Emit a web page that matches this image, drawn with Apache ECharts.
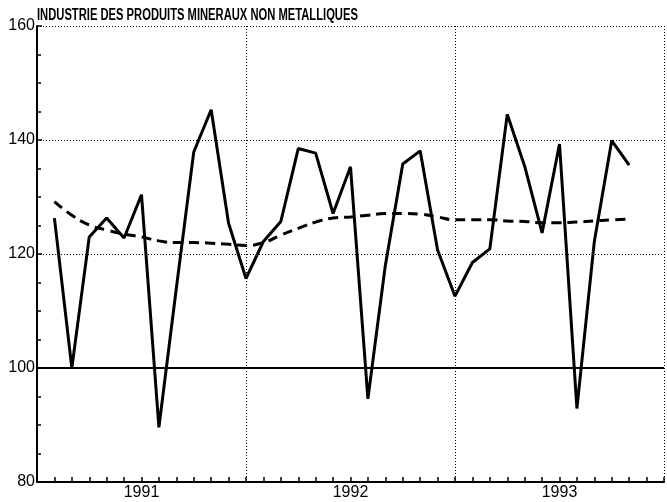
<!DOCTYPE html>
<html>
<head>
<meta charset="utf-8">
<script src="https://cdn.jsdelivr.net/npm/echarts@6/dist/echarts.min.js"></script>
<style>
html, body { margin: 0; padding: 0; background: #fff; }
#chart { width: 667px; height: 502px; }
</style>
</head>
<body>
<div id="chart"></div>
<script>
// mois : 0..36 (3 ans), points aux limites de mois
var months = [];
for (var i = 0; i <= 36; i++) months.push(i);
var yearLabels = { 6: '1991', 18: '1992', 30: '1993' };

// indice brut (mois 1..34)
var indice = [null,
	126.3, 100.0, 123.0, 126.3, 122.8, 130.4, 89.6, 114.0, 137.9, 145.3,
	125.4, 115.7, 122.2, 125.7, 138.5, 137.7, 127.1, 135.3, 94.6, 118.0,
	135.8, 138.1, 120.7, 112.6, 118.5, 120.9, 144.5, 135.4, 123.7, 139.3,
	92.9, 122.2, 139.9, 135.6,
	null, null];

// tendance (pointillés)
var tendance = [null,
	129.2, 126.8, 125.1, 124.2, 123.5, 123.0, 122.3, 122.0, 122.0, 121.9,
	121.7, 121.5, 122.0, 123.3, 124.5, 125.6, 126.3, 126.5, 126.8, 127.1,
	127.1, 127.0, 126.5, 126.0, 126.0, 126.0, 125.8, 125.7, 125.5, 125.5,
	125.6, 125.8, 126.0, 126.1,
	null, null];

var font = 'Liberation Sans, Arial, sans-serif';

var chart = echarts.init(document.getElementById('chart'));
var option = {
	animation: false,
	backgroundColor: '#fff',
	// titre en police étroite : texte réel compressé horizontalement
	graphic: [{
		type: 'text',
		x: 37,
		y: 24,
		scaleX: 0.7,
		style: {
			text: 'INDUSTRIE DES PRODUITS MINERAUX NON METALLIQUES',
			font: 'bold 16px ' + font,
			fill: '#000',
			textVerticalAlign: 'bottom'
		}
	}],
	grid: { left: 37, right: 1, top: 26, bottom: 20, containLabel: false },
	xAxis: {
		type: 'category',
		data: months,
		boundaryGap: false,
		axisLine: { lineStyle: { color: '#000', width: 2 } },
		axisTick: { show: true, inside: true, length: 5, interval: 0, lineStyle: { color: '#000', width: 1.5 } },
		axisLabel: {
			interval: 0,
			margin: 3,
			fontFamily: font,
			fontSize: 16,
			color: '#000',
			formatter: function (v, idx) { return yearLabels[idx] || ''; }
		},
		splitLine: {
			show: true,
			interval: function (idx) { return idx === 12 || idx === 24 || idx === 36; },
			lineStyle: { color: '#000', width: 1, type: [1, 2] }
		}
	},
	yAxis: {
		type: 'value',
		min: 80,
		max: 160,
		interval: 20,
		axisLine: { show: true, lineStyle: { color: '#000', width: 2 } },
		axisTick: { show: true, inside: true, length: 5, lineStyle: { color: '#000', width: 1.5 } },
		minorTick: { show: true, splitNumber: 4, length: 4, lineStyle: { color: '#000', width: 1.5 } },
		axisLabel: { margin: 2, fontFamily: font, fontSize: 16, color: '#000' },
		splitLine: { show: true, lineStyle: { color: '#000', width: 1, type: [1, 2] } }
	},
	series: [{
		name: 'indice',
		type: 'line',
		data: indice,
		symbol: 'none',
		lineStyle: { color: '#000', width: 3 },
		markLine: {
			silent: true,
			symbol: 'none',
			label: { show: false },
			lineStyle: { color: '#000', width: 2, type: 'solid' },
			data: [{ yAxis: 100 }]
		},
		z: 3
	}, {
		name: 'tendance',
		type: 'line',
		data: tendance,
		symbol: 'none',
		smooth: true,
		lineStyle: { color: '#000', width: 3, type: [10, 6] },
		z: 2
	}]
};
chart.setOption(option);
</script>
</body>
</html>
